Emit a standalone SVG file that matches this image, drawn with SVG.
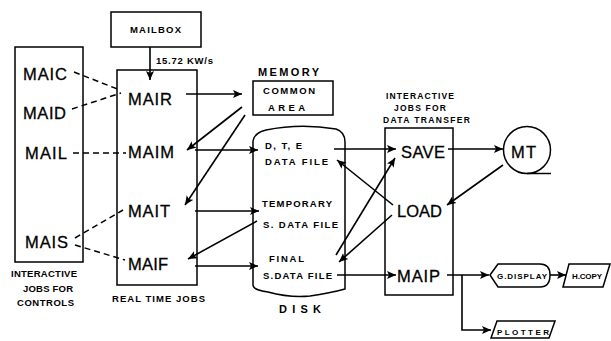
<svg xmlns="http://www.w3.org/2000/svg" width="611" height="341" viewBox="0 0 611 341">
<style>
.bx{fill:none;stroke:#000;stroke-width:1.5}
.big{font-family:"Liberation Sans",Arial,sans-serif;font-size:16.5px;fill:#000;stroke:#000;stroke-width:0.3}
.sm{font-family:"Liberation Sans",Arial,sans-serif;font-size:9.5px;font-weight:bold;fill:#000}
.md{font-family:"Liberation Sans",Arial,sans-serif;font-size:11px;font-weight:bold;fill:#000}
.ln{fill:none;stroke:#000;stroke-width:1.6;marker-end:url(#ah)}
.pl{fill:none;stroke:#000;stroke-width:1.6}
.ds{fill:none;stroke:#000;stroke-width:1.5;stroke-dasharray:6,4}
</style>
<defs>
<marker id="ah" markerUnits="userSpaceOnUse" markerWidth="10" markerHeight="9" refX="9" refY="4.5" orient="auto">
<path d="M0,0.5 L9,4.5 L0,8.5 L2,4.5 z" fill="#000"/>
</marker>
</defs>
<rect width="611" height="341" fill="#fff"/>

<g id="controls">
<rect class="bx" x="15" y="47" width="68" height="215"/>
<text class="big" x="23" y="80" textLength="44">MAIC</text>
<text class="big" x="23" y="119" textLength="43">MAID</text>
<text class="big" x="25" y="159" textLength="42">MAIL</text>
<text class="big" x="25" y="248" textLength="43">MAIS</text>
<text class="sm" x="11" y="277" textLength="66">INTERACTIVE</text>
<text class="sm" x="23" y="292" textLength="50">JOBS FOR</text>
<text class="sm" x="17" y="306" textLength="57">CONTROLS</text>
</g>

<g id="mailbox">
<rect class="bx" x="111" y="12" width="90" height="35"/>
<text class="sm" x="130" y="33" textLength="51">MAILBOX</text>
</g>

<g id="realtime">
<rect class="bx" x="117" y="70" width="80" height="215"/>
<text class="big" x="128" y="105" textLength="44">MAIR</text>
<text class="big" x="128" y="158" textLength="46">MAIM</text>
<text class="big" x="128" y="217" textLength="42">MAIT</text>
<text class="big" x="128" y="270" textLength="40">MAIF</text>
<text class="sm" x="112" y="302" textLength="93">REAL TIME JOBS</text>
</g>

<g id="memory">
<text class="md" x="258" y="76" textLength="61">MEMORY</text>
<rect class="bx" x="253" y="81" width="80" height="34"/>
<text class="sm" x="263" y="94" textLength="52">COMMON</text>
<text class="sm" x="268" y="111" textLength="37">AREA</text>
</g>

<g id="disk">
<path class="bx" d="M253,285 L253,141 Q254,133 266,130 Q300,123 336,129 Q345,132 345,142 L345,289 Q330,293 310,296 Q290,298 268,292 Q253,290 253,285 Z"/>
<text class="sm" x="265" y="149" textLength="37">D, T, E</text>
<text class="sm" x="265" y="165" textLength="63">DATA FILE</text>
<text class="sm" x="262" y="207" textLength="70">TEMPORARY</text>
<text class="sm" x="263" y="228" textLength="75">S. DATA FILE</text>
<text class="sm" x="269" y="262" textLength="35">FINAL</text>
<text class="sm" x="263" y="279" textLength="69">S.DATA FILE</text>
<text class="md" x="279" y="313" textLength="42">DISK</text>
</g>

<g id="transfer">
<text class="sm" x="386" y="99" textLength="68" style="font-size:8.5px">INTERACTIVE</text>
<text class="sm" x="394" y="111" textLength="52" style="font-size:8.5px">JOBS FOR</text>
<text class="sm" x="383" y="123" textLength="87" style="font-size:8.5px">DATA TRANSFER</text>
<rect class="bx" x="385" y="128" width="68" height="167"/>
<text class="big" x="401" y="158" textLength="44">SAVE</text>
<text class="big" x="397" y="217" textLength="45">LOAD</text>
<text class="big" x="397" y="282" textLength="43">MAIP</text>
</g>

<g id="mt">
<circle class="bx" cx="527" cy="150" r="23.5"/>
<line class="bx" x1="527" y1="173.5" x2="551" y2="173.5"/>
<text class="big" x="511" y="158" textLength="25">MT</text>
</g>

<g id="gdisplay">
<path class="bx" d="M490,275 L498,264 L540,264 Q550,264 550,275 Q550,287 540,287 L498,287 Z"/>
<text class="sm" x="497" y="278.5" textLength="50" style="font-size:8px">G.DISPLAY</text>
</g>

<g id="hcopy">
<path class="bx" d="M569,264 L610,264 L603,287 L563,287 Z"/>
<text class="sm" x="572" y="278.5" textLength="30" style="font-size:8px">H.COPY</text>
</g>

<g id="plotter">
<path class="bx" d="M497,321 L555,321 L549,338 L491,338 Z"/>
<text class="sm" x="497" y="334.5" textLength="52" style="font-size:8px">PLOTTER</text>
</g>

<g id="connectors">
<line class="ln" x1="150" y1="47" x2="150" y2="80"/>
<text class="sm" x="156" y="64" textLength="57">15.72 KW/s</text>
<line class="ds" x1="74" y1="72" x2="120" y2="90"/>
<line class="ds" x1="72" y1="109" x2="121" y2="93"/>
<line class="ds" x1="73" y1="153" x2="126" y2="153"/>
<line class="ds" x1="75" y1="238" x2="123" y2="210"/>
<line class="ds" x1="75" y1="245" x2="125" y2="260"/>
<line class="ln" x1="186" y1="94" x2="242" y2="94"/>
<line class="ln" x1="242" y1="107" x2="187" y2="150"/>
<line class="ln" x1="245" y1="115" x2="185" y2="205"/>
<line class="ln" x1="195" y1="150" x2="258" y2="150"/>
<line class="ln" x1="195" y1="211" x2="259" y2="211"/>
<line class="ln" x1="257" y1="221" x2="188" y2="259"/>
<line class="ln" x1="195" y1="266" x2="258" y2="266"/>
<line class="ln" x1="334" y1="149" x2="396" y2="149"/>
<line class="ln" x1="448" y1="149" x2="503" y2="149"/>
<line class="ln" x1="503" y1="165" x2="447" y2="205"/>
<line class="ln" x1="393" y1="205" x2="337" y2="160"/>
<line class="ln" x1="336" y1="255" x2="395" y2="158"/>
<line class="ln" x1="392" y1="215" x2="339" y2="262"/>
<line class="ln" x1="337" y1="275" x2="396" y2="275"/>
<line class="ln" x1="447" y1="275" x2="489" y2="275"/>
<polyline class="ln" points="462,275 462,330 491,330"/>
<line class="ln" x1="550" y1="275" x2="566" y2="275"/>
</g>
</svg>
